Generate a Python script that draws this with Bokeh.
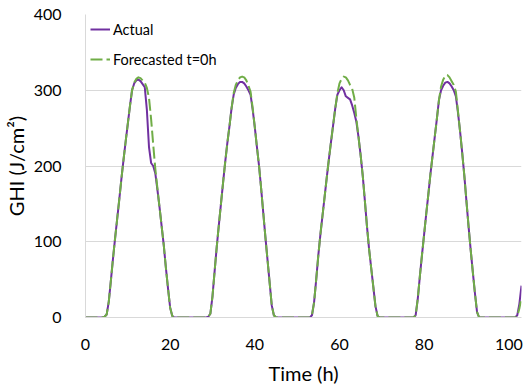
from bokeh.plotting import figure
from bokeh.models import Range1d, FixedTicker, Legend, LegendItem
from bokeh.embed import file_html
from bokeh.resources import INLINE

# time axis: every half hour from 0 h to 103 h
hours = [i * 0.5 for i in range(207)]

actual = [
    # 0.0 - 4.0 h
    0, 0, 0, 0, 0, 0, 0, 0, 0,
    # 4.5 - 20.5 h
    1, 4, 21, 49, 78, 105, 131, 157, 184, 209, 233, 256, 279, 300, 309,
    313, 314, 312, 308, 304, 274, 225, 204, 200, 190, 168, 145, 120, 95, 65,
    38, 13, 2,
    # 21.0 - 28.5 h
    0, 0, 0, 0, 0, 0, 0, 0, 0, 0, 0, 0, 0, 0, 0, 0,
    # 29.0 - 44.5 h
    1, 5, 28, 61, 93, 122, 150, 178, 205, 230, 252, 276, 294, 303, 308,
    311, 311, 309, 305, 300, 294, 274, 251, 225, 200, 170, 138, 106, 76, 46,
    16, 3,
    # 45.0 - 53.0 h
    0, 0, 0, 0, 0, 0, 0, 0, 0, 0, 0, 0, 0, 0, 0, 0, 0,
    # 53.5 - 69.0 h
    3, 20, 50, 82, 110, 135, 160, 185, 209, 232, 254, 276, 294, 300, 304,
    300, 292, 290, 288, 280, 270, 258, 238, 214, 187, 154, 120, 90, 65, 40,
    15, 2,
    # 69.5 - 77.5 h
    0, 0, 0, 0, 0, 0, 0, 0, 0, 0, 0, 0, 0, 0, 0, 0, 0,
    # 78.0 - 92.5 h
    3, 25, 55, 83, 110, 137, 163, 190, 214, 238, 262, 287, 300, 306, 310,
    311, 309, 305, 300, 292, 270, 245, 217, 187, 153, 120, 89, 60, 32, 7,
    # 93.0 - 101.5 h
    0, 0, 0, 0, 0, 0, 0, 0, 0, 0, 0, 0, 0, 0, 0, 0, 0, 0,
    # 102.0 - 103.0 h
    3, 18, 42,
]

forecast = [
    # 0.0 - 4.0 h
    0, 0, 0, 0, 0, 0, 0, 0, 0,
    # 4.5 - 20.5 h
    1, 4, 21, 49, 78, 105, 131, 157, 184, 209, 233, 256, 279, 300, 310,
    315, 317, 316, 313, 310, 303, 290, 262, 228, 196, 170, 145, 120, 95, 65,
    38, 13, 2,
    # 21.0 - 28.5 h
    0, 0, 0, 0, 0, 0, 0, 0, 0, 0, 0, 0, 0, 0, 0, 0,
    # 29.0 - 44.5 h
    1, 5, 28, 61, 93, 122, 150, 178, 205, 230, 252, 276, 296, 307, 313,
    317, 318, 317, 313, 306, 298, 276, 251, 225, 200, 170, 138, 106, 76, 46,
    16, 3,
    # 45.0 - 53.0 h
    0, 0, 0, 0, 0, 0, 0, 0, 0, 0, 0, 0, 0, 0, 0, 0, 0,
    # 53.5 - 69.0 h
    3, 20, 50, 82, 110, 135, 160, 185, 209, 232, 254, 276, 296, 309, 315,
    318, 317, 313, 307, 302, 290, 262, 238, 214, 187, 154, 120, 90, 65, 40,
    15, 2,
    # 69.5 - 77.5 h
    0, 0, 0, 0, 0, 0, 0, 0, 0, 0, 0, 0, 0, 0, 0, 0, 0,
    # 78.0 - 92.5 h
    3, 25, 55, 83, 110, 137, 163, 190, 214, 238, 262, 287, 305, 314, 319,
    320, 317, 312, 307, 298, 272, 245, 217, 187, 153, 120, 89, 60, 32, 7,
    # 93.0 - 101.5 h
    0, 0, 0, 0, 0, 0, 0, 0, 0, 0, 0, 0, 0, 0, 0, 0, 0, 0,
    # 102.0 - 103.0 h
    2, 12, 26,
]

x_ticks = [0, 20, 40, 60, 80, 100]
y_ticks = [0, 100, 200, 300, 400]

FONT = "Lato"

p = figure(width=526, height=387, output_backend="svg", toolbar_location=None,
           x_range=Range1d(0, 103), y_range=Range1d(0, 400),
           min_border_left=85, min_border_right=5, min_border_top=14,
           min_border_bottom=69)
p.outline_line_color = None
p.background_fill_color = "white"
p.border_fill_color = "white"

r1 = p.line(hours, actual, line_color="#7030A0", line_width=2, line_join="round")
r2 = p.line(hours, forecast, line_color="#70AD47", line_width=2,
            line_dash="12 4", line_join="round")

for ax in (p.xaxis[0], p.yaxis[0]):
    ax.major_tick_line_color = None
    ax.minor_tick_line_color = None
    ax.axis_line_color = "#d9d9d9"
    ax.axis_line_width = 1
    ax.major_label_text_font = FONT
    ax.major_label_text_font_size = "16px"
    ax.major_label_text_color = "black"
    ax.axis_label_text_font = FONT
    ax.axis_label_text_font_size = "20px"
    ax.axis_label_text_font_style = "normal"
    ax.axis_label_text_color = "black"

p.xaxis.ticker = FixedTicker(ticks=x_ticks)
p.yaxis.ticker = FixedTicker(ticks=y_ticks)
p.xaxis.axis_label = "Time (h)"
p.yaxis.axis_label = "GHI (J/cm²)"
p.xaxis.major_label_standoff = 15
p.xaxis.axis_label_standoff = 8
p.yaxis.major_label_standoff = 18
p.yaxis.axis_label_standoff = 3

p.xgrid.visible = False
p.ygrid.grid_line_color = "#d9d9d9"
p.ygrid.grid_line_width = 1

legend = Legend(items=[LegendItem(label="Actual", renderers=[r1]),
                       LegendItem(label="Forecasted t=0h", renderers=[r2])],
                location="top_left", margin=0, padding=5, spacing=10,
                glyph_width=20, glyph_height=20, label_height=20,
                label_standoff=3, label_text_font=FONT,
                label_text_font_size="14.5px", label_text_color="black",
                background_fill_alpha=0, border_line_alpha=0)
p.add_layout(legend)

open("out.html", "w").write(file_html(p, INLINE))
